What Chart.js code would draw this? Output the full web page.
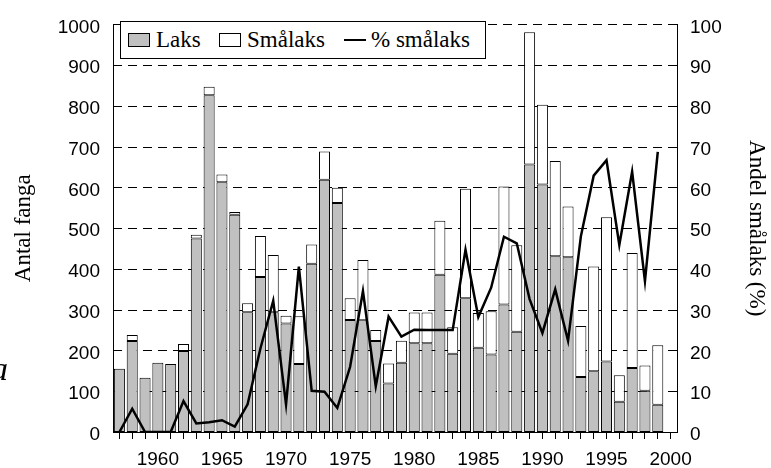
<!DOCTYPE html>
<html>
<head>
<meta charset="utf-8">
<script src="https://cdn.jsdelivr.net/npm/chart.js@4/dist/chart.umd.min.js"></script>
<style>
html,body{margin:0;padding:0;background:#fff;}
#wrap{position:relative;width:771px;height:468px;overflow:hidden;}
#legend{position:absolute;left:120px;top:21px;width:364px;height:36px;border:1px solid #000;background:#fff;
  font-family:'Liberation Serif','Times New Roman',serif;font-size:23px;color:#000;}
.item{position:absolute;top:0;height:36px;display:flex;align-items:center;white-space:nowrap;}
.sw{box-sizing:border-box;width:22px;height:14px;border:1px solid #000;margin-right:6px;}
.ln{width:22px;height:0;border-top:2.5px solid #000;margin-right:5px;}
#panel{position:absolute;left:-9px;top:350px;font-family:'Liberation Serif','Times New Roman',serif;font-style:italic;font-size:34px;color:#000;}
</style>
</head>
<body>
<div id="wrap">
<canvas id="c" width="771" height="468"></canvas>
<div id="legend"></div>
<div id="panel">a</div>
</div>
<script>
const years = [1957,1958,1959,1960,1961,1962,1963,1964,1965,1966,1967,1968,1969,1970,1971,1972,1973,1974,1975,1976,1977,1978,1979,1980,1981,1982,1983,1984,1985,1986,1987,1988,1989,1990,1991,1992,1993,1994,1995,1996,1997,1998,1999,2000];
const laks = [155,223,133,170,167,199,475,826,613,533,294,380,294,266,167,413,619,562,275,274,223,119,170,218,218,386,192,328,207,190,313,246,656,607,431,429,135,149,173,74,157,101,67,null];
const smalaks = [0,15,0,0,0,17,9,21,19,7,22,101,140,19,117,47,69,37,53,148,27,49,54,75,75,132,65,269,85,106,289,212,325,196,234,124,125,257,354,65,282,62,146,null];
const pctSmalaks = [0,5.7,0,0,0,7.6,2.1,2.4,2.9,1.3,6.8,20.5,32.2,6.8,40.6,10.1,9.9,5.9,16,34.6,11.2,28.3,23.4,25.1,25,25,25,44.7,28.2,35.4,47.9,46.3,32.6,24.3,35,22.4,48,62.9,66.7,45.9,63.9,37,68.7,null];
const leftTicks = [0,100,200,300,400,500,600,700,800,900,1000];
const rightTicks = [0,10,20,30,40,50,60,70,80,90,100];

const tickFont = {family:"'Liberation Sans', Arial, sans-serif", size:19};
const titleFont = {family:"'Liberation Serif', 'Times New Roman', serif", size:23};

// plugin: dashed horizontal grid lines for the left axis (drawn through the library's own scale)
const dashedGrid = {
  id:'dashedGrid',
  beforeDatasetsDraw(chart){
    const s = chart.scales.y, a = chart.chartArea, ctx = chart.ctx;
    ctx.save();
    ctx.strokeStyle = '#000';
    ctx.lineWidth = 1;
    ctx.setLineDash([9,6]);
    s.ticks.forEach(function(t){
      if (t.value === 0) return;
      const py = Math.round(s.getPixelForValue(t.value)) + 0.5;
      ctx.beginPath(); ctx.moveTo(a.left, py); ctx.lineTo(a.right, py); ctx.stroke();
    });
    ctx.restore();
  }
};

const chart = new Chart(document.getElementById('c'), {
  data: {
    labels: years,
    datasets: [
      {type:'bar', label:'Laks', data:laks, backgroundColor:'#c0c0c0', borderColor:'#000', borderWidth:1, borderSkipped:false, yAxisID:'y', stack:'s', order:1},
      {type:'bar', label:'Smålaks', data:smalaks, backgroundColor:'#fff', borderColor:'#000', borderWidth:1, borderSkipped:false, yAxisID:'y', stack:'s', order:1},
      {type:'line', label:'% smålaks', data:pctSmalaks, borderColor:'#000', borderWidth:2.5, pointRadius:0, tension:0, fill:false, yAxisID:'y1', order:0}
    ]
  },
  plugins:[dashedGrid],
  options: {
    responsive:false,
    animation:false,
    layout:{padding:{top:17,left:0,right:0,bottom:0}},
    plugins:{legend:{display:false}, tooltip:{enabled:false}},
    datasets:{bar:{categoryPercentage:1, barPercentage:0.86}},
    scales:{
      x:{
        type:'category', offset:true, stacked:true,
        grid:{drawOnChartArea:false, drawTicks:true, tickLength:7, color:'#000', offset:false},
        border:{display:true, color:'#000', width:1},
        ticks:{autoSkip:false, maxRotation:0, minRotation:0, color:'#000', font:tickFont, padding:9,
          callback:function(v,i){ const yr = years[i]; return (yr % 5 === 0) ? String(yr) : ''; }},
        afterFit:function(s){ s.height = 36; }
      },
      y:{
        position:'left', stacked:true, min:0, max:1000,
        afterBuildTicks:function(s){ s.ticks = leftTicks.map(v=>({value:v})); },
        grid:{display:false, drawTicks:false},
        border:{display:true, color:'#000', width:1},
        ticks:{color:'#000', font:tickFont, padding:13, labelOffset:3, callback:function(v){ return String(v); }},
        title:{display:true, text:'Antal fanga', color:'#000', font:titleFont, padding:{top:10,bottom:0}},
        afterFit:function(s){ s.width = 113; }
      },
      y1:{
        position:'right', min:0, max:100,
        afterBuildTicks:function(s){ s.ticks = rightTicks.map(v=>({value:v})); },
        grid:{drawOnChartArea:false, drawTicks:false},
        border:{display:true, color:'#000', width:1},
        ticks:{color:'#000', font:tickFont, padding:13, labelOffset:3, callback:function(v){ return String(v); }},
        title:{display:true, text:'Andel smålaks (%)', color:'#000', font:titleFont, padding:{top:1,bottom:0}},
        afterFit:function(s){ s.width = 94; }
      }
    }
  }
});

// Legend built from the chart datasets
(function(){
  const lg = document.getElementById('legend');
  const lefts = [7, 98, 223];
  chart.data.datasets.forEach(function(ds, i){
    const it = document.createElement('div');
    it.className = 'item';
    it.style.left = lefts[i] + 'px';
    const sw = document.createElement('span');
    if (ds.type === 'line') { sw.className = 'ln'; }
    else { sw.className = 'sw'; sw.style.background = ds.backgroundColor; }
    const tx = document.createElement('span');
    tx.textContent = ds.label;
    it.appendChild(sw); it.appendChild(tx);
    lg.appendChild(it);
  });
})();
</script>
</body>
</html>
